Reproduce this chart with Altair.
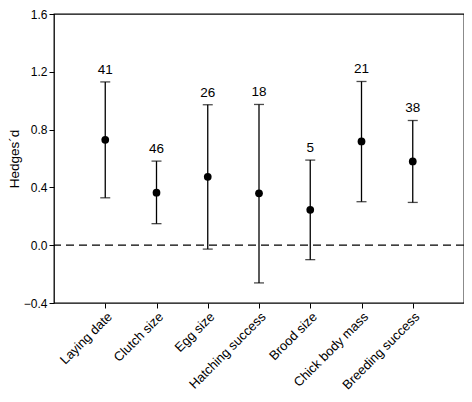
import altair as alt
import pandas as pd

categories = ["Laying date", "Clutch size", "Egg size", "Hatching success",
              "Brood size", "Chick body mass", "Breeding success"]
means = [0.729, 0.363, 0.473, 0.359, 0.245, 0.718, 0.580]
lowers = [0.328, 0.149, -0.027, -0.261, -0.100, 0.301, 0.296]
uppers = [1.130, 0.582, 0.972, 0.974, 0.589, 1.133, 0.863]
counts = ["41", "46", "26", "18", "5", "21", "38"]
y_ticks = [-0.4, 0.0, 0.4, 0.8, 1.2, 1.6]

df = pd.DataFrame({"cat": categories, "mean": means, "lo": lowers,
                   "hi": uppers, "n": counts})

FONT = "Liberation Sans"

x_enc = alt.X("cat:N", sort=categories,
              scale=alt.Scale(type="point", padding=1),
              axis=alt.Axis(title=None, labelAngle=-45, labelAlign="right",
                            labelBaseline="top", labelFontSize=13,
                            labelPadding=2, tickSize=5, labelColor="black",
                            domain=False, tickColor="black"))

y_scale = alt.Scale(domain=[-0.4, 1.6], nice=False, zero=False)
y_enc = alt.Y("mean:Q", scale=y_scale,
              axis=alt.Axis(title="Hedges´d", values=y_ticks, format=".1f",
                            grid=False, tickSize=5, labelFontSize=12,
                            labelPadding=2, titleFontSize=13.5,
                            titleFontWeight="normal", titlePadding=2,
                            labelColor="black", titleColor="black",
                            domain=False, tickColor="black"))

base = alt.Chart(df)

zero_line = alt.Chart(pd.DataFrame({"z": [0.0]})).mark_rule(
    color="black", strokeDash=[8, 5], strokeWidth=1.2
).encode(y=alt.Y("z:Q", scale=y_scale))

bars = base.mark_rule(color="black", strokeWidth=1.3).encode(
    x=x_enc, y=alt.Y("lo:Q", scale=y_scale), y2="hi:Q")

caps_lo = base.mark_tick(color="black", orient="horizontal", size=10,
                         thickness=1.3).encode(
    x=x_enc, y=alt.Y("lo:Q", scale=y_scale))
caps_hi = base.mark_tick(color="black", orient="horizontal", size=10,
                         thickness=1.3).encode(
    x=x_enc, y=alt.Y("hi:Q", scale=y_scale))

points = base.mark_circle(color="black", opacity=1, size=60).encode(
    x=x_enc, y=y_enc)

labels = base.mark_text(font=FONT, fontSize=13.5, color="black",
                        baseline="alphabetic", dy=-8).encode(
    x=x_enc, y=alt.Y("hi:Q", scale=y_scale), text="n:N")

chart = alt.layer(zero_line, bars, caps_lo, caps_hi, points, labels).properties(
    width=410, height=289,
    background="white",
    autosize=alt.AutoSizeParams(type="none"),
    padding={"left": 46, "top": 6, "right": 0, "bottom": 91},
).configure_view(
    stroke="black", strokeWidth=1.3
).configure_axis(
    labelFont=FONT, titleFont=FONT
)

chart.save("out.html", embed_options={"renderer": "svg", "actions": False})
